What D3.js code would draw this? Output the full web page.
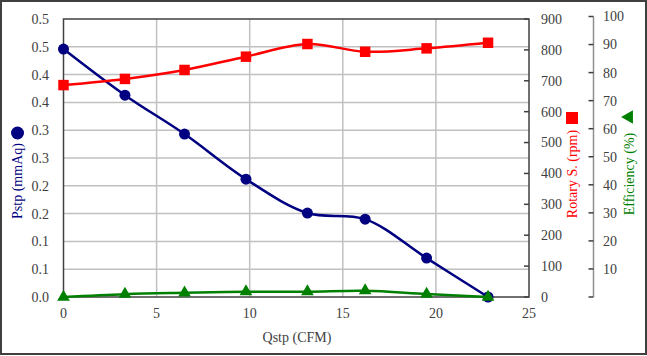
<!DOCTYPE html>
<html><head><meta charset="utf-8">
<script src="https://cdn.jsdelivr.net/npm/d3@7"></script>
<style>body{margin:0;background:#fff}svg{display:block}text{font-family:"Liberation Serif","Times New Roman",serif}</style>
</head><body>
<svg id="c" width="647" height="356"></svg>
<script>
const qstp = [0.0, 3.3, 6.5, 9.8, 13.1, 16.2, 19.5, 22.8];
const pstp = [0.446, 0.363, 0.293, 0.212, 0.151, 0.140, 0.070, 0.0];
const rpm  = [686, 706, 735, 778, 819, 794, 805, 823];
const eff  = [0.0, 1.0, 1.5, 1.9, 1.9, 2.25, 1.07, 0.0];
const xTicks = [0, 5, 10, 15, 20, 25];
const pTickValues = [0, 0.05, 0.1, 0.15, 0.2, 0.25, 0.3, 0.35, 0.4, 0.45, 0.5];
const pTickLabels = ["0.0","0.1","0.1","0.2","0.2","0.3","0.3","0.4","0.4","0.5","0.5"];
const rpmTicks = [0,100,200,300,400,500,600,700,800,900];
const effTicks = [10,20,30,40,50,60,70,80,90,100];
const xTitle = "Qstp (CFM)", pTitle = "Pstp (mmAq)", rTitle = "Rotary S. (rpm)", eTitle = "Efficiency (%)";

const svg = d3.select("#c");
const L = 63.5, R = 529, T = 19, B = 297;
const x = d3.scaleLinear().domain([0,25]).range([L,R]);
const yP = d3.scaleLinear().domain([0,0.5]).range([B,T]);
const yR = d3.scaleLinear().domain([0,900]).range([B,T]);
const yE = d3.scaleLinear().domain([0,100]).range([297,16.5]);
const txt = "#404040", navy = "#000080", red = "#ff0000", green = "#008000";

// outer frame
svg.append("rect").attr("x",1).attr("y",1).attr("width",645).attr("height",353)
  .attr("fill","none").attr("stroke","#404040").attr("stroke-width",2);

// gridlines
svg.append("g").selectAll("line").data(pTickValues.slice(1,-1)).join("line")
  .attr("x1",L).attr("x2",R).attr("y1",d=>yP(d)).attr("y2",d=>yP(d))
  .attr("stroke","#c0c0c0").attr("stroke-width",1.5);
svg.append("g").selectAll("line").data(xTicks.slice(1,-1)).join("line")
  .attr("x1",d=>x(d)).attr("x2",d=>x(d)).attr("y1",T).attr("y2",B)
  .attr("stroke","#c0c0c0").attr("stroke-width",1.5);

// rpm ticks (inward)
svg.append("g").selectAll("line").data(rpmTicks).join("line")
  .attr("x1",R-5).attr("x2",R).attr("y1",d=>yR(d)).attr("y2",d=>yR(d))
  .attr("stroke","#404040").attr("stroke-width",1.5);

// plot frame
svg.append("rect").attr("x",L).attr("y",T).attr("width",R-L).attr("height",B-T)
  .attr("fill","none").attr("stroke","#404040").attr("stroke-width",1.5);

// left labels
svg.append("g").selectAll("text").data(pTickValues).join("text")
  .attr("x",49).attr("y",d=>yP(d)).attr("dy","0.35em").attr("text-anchor","end")
  .attr("font-size",14).attr("fill",txt).text((d,i)=>pTickLabels[i]);
// x labels
svg.append("g").selectAll("text").data(xTicks).join("text")
  .attr("x",d=>x(d)).attr("y",318).attr("text-anchor","middle")
  .attr("font-size",14).attr("fill",txt).text(d=>d);
// rpm labels
svg.append("g").selectAll("text").data(rpmTicks).join("text")
  .attr("x",541).attr("y",d=>yR(d)).attr("dy","0.35em").attr("text-anchor","start")
  .attr("font-size",14).attr("fill",txt).text(d=>d);

// efficiency axis
const EX = 593.5;
svg.append("line").attr("x1",EX).attr("x2",EX).attr("y1",yE(100)).attr("y2",yE(0))
  .attr("stroke","#909090").attr("stroke-width",1.5);
svg.append("g").selectAll("line").data([0].concat(effTicks)).join("line")
  .attr("x1",EX-5).attr("x2",EX).attr("y1",d=>yE(d)).attr("y2",d=>yE(d))
  .attr("stroke","#404040").attr("stroke-width",1.5);
svg.append("g").selectAll("text").data(effTicks).join("text")
  .attr("x",603).attr("y",d=>yE(d)).attr("dy","0.35em").attr("text-anchor","start")
  .attr("font-size",14).attr("fill",txt).text(d=>d);

// titles
svg.append("text").attr("x",297).attr("y",342).attr("text-anchor","middle")
  .attr("font-size",14).attr("fill",txt).text(xTitle);
svg.append("text").attr("transform","translate(22,181) rotate(-90)").attr("text-anchor","middle")
  .attr("font-size",14).attr("fill",navy).text(pTitle);
svg.append("circle").attr("cx",17.5).attr("cy",133).attr("r",6.5).attr("fill",navy);
svg.append("text").attr("transform","translate(577,174) rotate(-90)").attr("text-anchor","middle")
  .attr("font-size",14).attr("fill",red).text(rTitle);
svg.append("rect").attr("x",566).attr("y",112).attr("width",12).attr("height",12).attr("fill",red);
svg.append("text").attr("transform","translate(634,174) rotate(-90)").attr("text-anchor","middle")
  .attr("font-size",14).attr("fill",green).text(eTitle);
svg.append("path").attr("transform","translate(629,117) rotate(-90)")
  .attr("d",d3.symbol(d3.symbolTriangle, 80)()).attr("fill",green);

const curve = d3.curveCatmullRom.alpha(0.5);
function series(vals, ys, color, sym, size){
  const pts = qstp.map((q,i)=>[x(q), ys(vals[i])]);
  svg.append("path").attr("d", d3.line().curve(curve)(pts))
    .attr("fill","none").attr("stroke",color).attr("stroke-width",2.5);
  svg.append("g").selectAll("path").data(pts).join("path")
    .attr("transform",d=>`translate(${d[0]},${d[1]})`)
    .attr("d", d3.symbol(sym, size)()).attr("fill",color);
}
series(pstp, yP, navy, d3.symbolCircle, 95);
series(rpm, yR, red, d3.symbolSquare, 110);
series(eff, yE, green, d3.symbolTriangle, 70);
</script>
</body></html>
